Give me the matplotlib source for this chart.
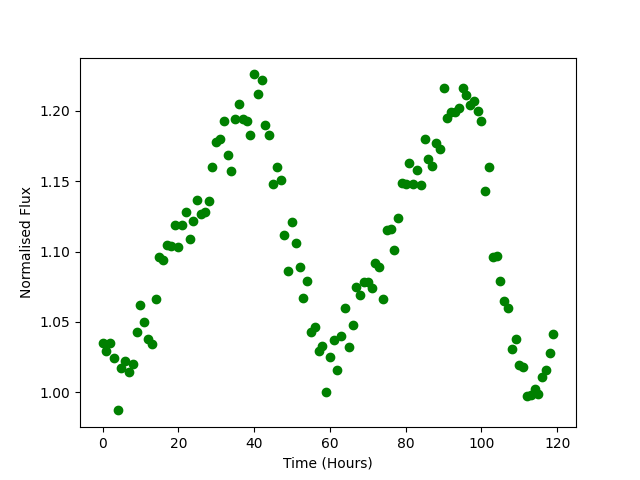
import matplotlib
matplotlib.use("Agg")
import matplotlib.pyplot as plt
import numpy as np

hours = list(range(120))
flux = [
    1.035, 1.029, 1.035, 1.024, 0.987, 1.017, 1.022, 1.014, 1.020, 1.043,
    1.062, 1.050, 1.038, 1.034, 1.066, 1.096, 1.094, 1.105, 1.104, 1.119,
    1.103, 1.119, 1.128, 1.109, 1.122, 1.137, 1.127, 1.128, 1.136, 1.160,
    1.178, 1.180, 1.193, 1.169, 1.157, 1.194, 1.205, 1.194, 1.193, 1.183,
    1.226, 1.212, 1.222, 1.190, 1.183, 1.148, 1.160, 1.151, 1.112, 1.086,
    1.121, 1.106, 1.089, 1.067, 1.079, 1.043, 1.046, 1.029, 1.033, 1.000,
    1.025, 1.037, 1.016, 1.040, 1.060, 1.032, 1.048, 1.075, 1.069, 1.078,
    1.078, 1.074, 1.092, 1.089, 1.066, 1.115, 1.116, 1.101, 1.124, 1.149,
    1.148, 1.163, 1.148, 1.158, 1.147, 1.180, 1.166, 1.161, 1.177, 1.173,
    1.216, 1.195, 1.199, 1.199, 1.202, 1.216, 1.211, 1.204, 1.207, 1.200,
    1.193, 1.143, 1.160, 1.096, 1.097, 1.079, 1.065, 1.060, 1.031, 1.038,
    1.019, 1.018, 0.997, 0.998, 1.002, 0.999, 1.011, 1.016, 1.028, 1.041,
]

fig, ax = plt.subplots(figsize=(6.4, 4.8), dpi=100)
ax.plot(hours, flux, 'go')
ax.set_xlabel("Time (Hours)")
ax.set_ylabel("Normalised Flux")
fig.savefig("out.png")
